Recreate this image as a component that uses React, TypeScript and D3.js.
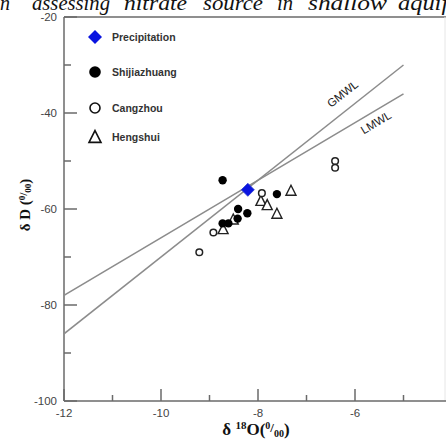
import React from "react";
import * as d3 from "d3";

// ---- data ----
const precipitation = [{ o: -8.21, d: -56.0 }];
const shijiazhuang = [
  { o: -8.73, d: -54.0 },
  { o: -7.61, d: -56.9 },
  { o: -8.41, d: -60.0 },
  { o: -8.22, d: -60.9 },
  { o: -8.42, d: -62.0 },
  { o: -8.73, d: -63.0 },
  { o: -8.61, d: -63.0 },
];
const cangzhou = [
  { o: -7.92, d: -56.7 },
  { o: -8.92, d: -64.9 },
  { o: -9.21, d: -69.0 },
  { o: -6.41, d: -50.0 },
  { o: -6.41, d: -51.4 },
];
const hengshui = [
  { o: -7.32, d: -56.2 },
  { o: -7.94, d: -58.3 },
  { o: -7.81, d: -59.2 },
  { o: -7.61, d: -61.0 },
  { o: -8.51, d: -62.2 },
  { o: -8.72, d: -64.2 },
];
// water lines: dD = slope * d18O + intercept
const waterLines = [
  { name: "GMWL", slope: 8, intercept: 10 },
  { name: "LMWL", slope: 6, intercept: -6 },
];
const lineRange = [-12, -5];
const xMajorTicks = [-12, -10, -8, -6, -4];
const xMinorTicks = [-11, -9, -7, -5];
const yMajorTicks = [-20, -40, -60, -80, -100];
const yMinorTicks = [-30, -50, -70, -90];
const legendItems = ["Precipitation", "Shijiazhuang", "Cangzhou", "Hengshui"];
const titleWords = ["assessing", "nitrate", "source", "in", "shallow"];
const titleLead = "in";
const titleTail = "aquifers";

const W = 446;
const H = 439;

export default function App() {
  const x = d3.scaleLinear().domain([-12, -4]).range([64, 452]);
  const y = d3.scaleLinear().domain([-100, -20]).range([401, 17]);
  const axisColor = "#6a6a6a";
  const left = x(-12);
  const bottom = y(-100);
  const top = y(-20);

  const diamond = (cx: number, cy: number, r: number) =>
    `M${cx},${cy - r}L${cx + r},${cy}L${cx},${cy + r}L${cx - r},${cy}Z`;
  const triangle = (cx: number, cy: number, s: number) => {
    const h = s * 0.9;
    return `M${cx},${cy - h / 2 - 1}L${cx + s / 2},${cy + h / 2}L${cx - s / 2},${cy + h / 2}Z`;
  };

  const labelFont = "Liberation Sans, Arial, sans-serif";
  const serif = "Liberation Serif, Times New Roman, serif";

  const legendY = [37, 72, 108, 137];
  // horizontal extents of the visible title words
  const wordBox = [
    [32, 78],
    [124, 63],
    [203, 60],
    [277, 16],
    [308, 79],
  ];
  const titleBase = 10;

  return (
    <svg
      width={W}
      height={H}
      style={{ position: "absolute", left: 0, top: 0, background: "#fff" }}
    >
      <defs>
        <clipPath id="plot">
          <rect x={left} y={top} width={W - left} height={bottom - top} />
        </clipPath>
      </defs>
      <rect width={W} height={H} fill="#fff" />
      {/* title fragment */}
      <g fontFamily={serif} fontStyle="italic" fontSize={20} fill="#111">
        <text x={10} y={titleBase} textAnchor="end">
          {titleLead}
        </text>
        {titleWords.map((w, i) => (
          <text
            key={i}
            x={wordBox[i][0]}
            y={titleBase}
            textLength={wordBox[i][1]}
            lengthAdjust="spacingAndGlyphs"
          >
            {w}
          </text>
        ))}
        <text x={398} y={titleBase} textLength={80} lengthAdjust="spacingAndGlyphs">
          {titleTail}
        </text>
      </g>

      {/* frame */}
      <line x1={left} x2={W} y1={top} y2={top} stroke={axisColor} strokeWidth={1.5} />
      <line x1={W - 1} x2={W - 1} y1={top} y2={bottom} stroke="#e6e6e6" strokeWidth={1} />
      <line x1={left} x2={left} y1={top} y2={bottom} stroke={axisColor} strokeWidth={1.5} />
      <line x1={left} x2={W} y1={bottom} y2={bottom} stroke={axisColor} strokeWidth={1.5} />

      {/* y ticks */}
      {yMajorTicks.map((t) => (
        <g key={"ym" + t}>
          <line x1={left} x2={left + 13} y1={y(t)} y2={y(t)} stroke={axisColor} strokeWidth={1.5} />
          <text
            x={left - 7}
            y={y(t) + 4}
            textAnchor="end"
            fontFamily={labelFont}
            fontSize={11.5}
            fill="#444"
          >
            {t}
          </text>
        </g>
      ))}
      {yMinorTicks.map((t) => (
        <line key={"yn" + t} x1={left} x2={left + 7} y1={y(t)} y2={y(t)} stroke={axisColor} strokeWidth={1.5} />
      ))}
      {/* x ticks */}
      {xMajorTicks.map((t) => (
        <g key={"xm" + t}>
          <line x1={x(t)} x2={x(t)} y1={bottom} y2={bottom - 12} stroke={axisColor} strokeWidth={1.5} />
          <text
            x={x(t)}
            y={bottom + 16}
            textAnchor="middle"
            fontFamily={labelFont}
            fontSize={11.5}
            fill="#444"
          >
            {t}
          </text>
        </g>
      ))}
      {xMinorTicks.map((t) => (
        <line key={"xn" + t} x1={x(t)} x2={x(t)} y1={bottom} y2={bottom - 6} stroke={axisColor} strokeWidth={1.5} />
      ))}

      {/* axis titles */}
      <text
        x={256}
        y={435}
        textAnchor="middle"
        fontFamily={serif}
        fontWeight="bold"
        fontSize={17}
        fill="#111"
      >
        δ <tspan fontSize={11} dy={-6}>18</tspan>
        <tspan dy={6}>O(</tspan>
        <tspan fontSize={10} dy={-6}>0</tspan>
        <tspan fontSize={13} dy={3}>/</tspan>
        <tspan fontSize={10} dy={5}>00</tspan>
        <tspan dy={-2}>)</tspan>
      </text>
      <text
        transform={`translate(30,205) rotate(-90)`}
        textAnchor="middle"
        fontFamily={serif}
        fontWeight="bold"
        fontSize={15}
        fill="#111"
      >
        δ D (<tspan fontSize={9} dy={-5}>0</tspan>
        <tspan fontSize={11} dy={2}>/</tspan>
        <tspan fontSize={9} dy={4}>00</tspan>
        <tspan dy={-1}>)</tspan>
      </text>

      {/* water lines */}
      <g clipPath="url(#plot)">
        {waterLines.map((l) => (
          <path
            key={l.name}
            d={
              d3
                .line<number>()
                .x((v) => x(v))
                .y((v) => y(l.slope * v + l.intercept))(lineRange) || ""
            }
            stroke="#8c8c8c"
            strokeWidth={1.5}
            fill="none"
          />
        ))}
      </g>
      <text
        transform={`translate(345,97) rotate(-38)`}
        textAnchor="middle"
        fontFamily={labelFont}
        fontSize={11.5}
        fill="#222"
      >
        GMWL
      </text>
      <text
        transform={`translate(378,126) rotate(-31)`}
        textAnchor="middle"
        fontFamily={labelFont}
        fontSize={11.5}
        fill="#222"
      >
        LMWL
      </text>

      {/* data */}
      {hengshui.map((p, i) => (
        <path key={"h" + i} d={triangle(x(p.o), y(p.d), 10)} fill="#fff" stroke="#222" strokeWidth={1.4} />
      ))}
      {cangzhou.map((p, i) => (
        <circle key={"c" + i} cx={x(p.o)} cy={y(p.d)} r={3.3} fill="#fff" stroke="#222" strokeWidth={1.5} />
      ))}
      {shijiazhuang.map((p, i) => (
        <circle key={"s" + i} cx={x(p.o)} cy={y(p.d)} r={4.2} fill="#000" />
      ))}
      {precipitation.map((p, i) => (
        <path key={"p" + i} d={diamond(x(p.o), y(p.d), 6.5)} fill="#0a14e0" stroke="#2a3ad0" strokeWidth={0.8} />
      ))}

      {/* legend */}
      <path d={diamond(95, legendY[0], 7)} fill="#0a14e0" />
      <circle cx={95} cy={legendY[1]} r={5.8} fill="#000" />
      <circle cx={95} cy={legendY[2]} r={5} fill="#fff" stroke="#111" strokeWidth={1.6} />
      <path d={triangle(95, legendY[3], 12)} fill="#fff" stroke="#111" strokeWidth={1.6} />
      {legendItems.map((t, i) => (
        <text
          key={t}
          x={112}
          y={legendY[i] + 4}
          fontFamily={labelFont}
          fontWeight="bold"
          fontSize={10.5}
          fill="#333"
        >
          {t}
        </text>
      ))}
    </svg>
  );
}
